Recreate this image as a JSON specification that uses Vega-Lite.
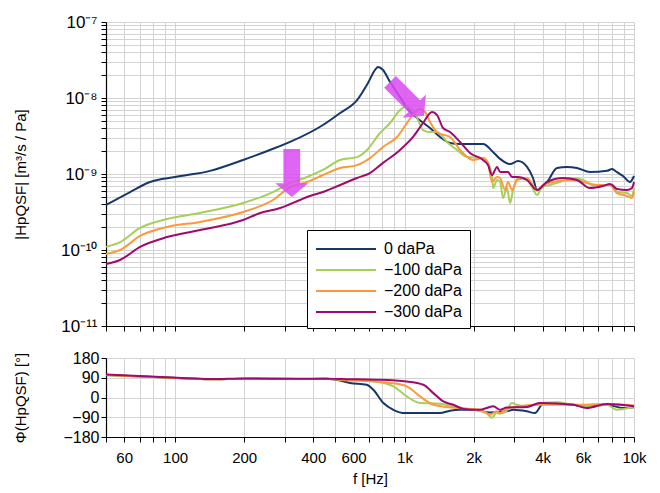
{
  "$schema": "https://vega.github.io/schema/vega-lite/v6.json",
  "background": "white",
  "padding": {"left": 13, "top": 13, "right": 5, "bottom": 5},
  "bounds": "flush",
  "spacing": 32,
  "config": {
    "view": {"stroke": null},
    "font": "Liberation Sans",
    "axis": {
      "gridColor": "#d3d3d3", "gridWidth": 1, "domainColor": "black", "domainWidth": 1.2,
      "tickColor": "black", "tickSize": 5, "labelColor": "black", "titleColor": "black",
      "labelFontSize": 15, "titleFontSize": 15, "titleFontWeight": "normal",
      "labelFont": "Liberation Sans", "titleFont": "Liberation Sans", "labelOverlap": false, "labelFlush": false
    }
  },
  "datasets": {
    "mag": [
      {"p":"0 daPa","f":50,"m":3.91e-10},{"p":"0 daPa","f":63.7,"m":5.79e-10},{"p":"0 daPa","f":77.8,"m":7.85e-10},{"p":"0 daPa","f":100,"m":9.14e-10},{"p":"0 daPa","f":142,"m":1.10e-9},{"p":"0 daPa","f":198,"m":1.53e-9},{"p":"0 daPa","f":259,"m":2.07e-9},{"p":"0 daPa","f":317,"m":2.64e-9},{"p":"0 daPa","f":441,"m":4.41e-9},{"p":"0 daPa","f":524,"m":6.35e-9},{"p":"0 daPa","f":621,"m":9.41e-9},{"p":"0 daPa","f":693,"m":1.58e-8},{"p":"0 daPa","f":744,"m":2.34e-8},{"p":"0 daPa","f":766,"m":2.56e-8},{"p":"0 daPa","f":806,"m":2.34e-8},{"p":"0 daPa","f":865,"m":1.62e-8},{"p":"0 daPa","f":956,"m":1.03e-8},{"p":"0 daPa","f":1025,"m":7.39e-9},{"p":"0 daPa","f":1134,"m":5.46e-9},{"p":"0 daPa","f":1291,"m":4.03e-9},{"p":"0 daPa","f":1428,"m":3.07e-9},{"p":"0 daPa","f":1579,"m":2.56e-9},{"p":"0 daPa","f":1745,"m":2.48e-9},{"p":"0 daPa","f":2198,"m":2.48e-9},{"p":"0 daPa","f":2430,"m":1.95e-9},{"p":"0 daPa","f":2608,"m":1.58e-9},{"p":"0 daPa","f":2883,"m":1.35e-9},{"p":"0 daPa","f":3123,"m":1.48e-9},{"p":"0 daPa","f":3419,"m":1.24e-9},{"p":"0 daPa","f":3630,"m":8.86e-10},{"p":"0 daPa","f":3779,"m":6.16e-10},{"p":"0 daPa","f":4178,"m":7.85e-10},{"p":"0 daPa","f":4619,"m":1.20e-9},{"p":"0 daPa","f":5108,"m":1.24e-9},{"p":"0 daPa","f":5645,"m":1.20e-9},{"p":"0 daPa","f":6433,"m":1.06e-9},{"p":"0 daPa","f":7628,"m":1.10e-9},{"p":"0 daPa","f":8020,"m":1.16e-9},{"p":"0 daPa","f":8433,"m":1.06e-9},{"p":"0 daPa","f":8955,"m":9.41e-10},{"p":"0 daPa","f":9607,"m":7.85e-10},{"p":"0 daPa","f":10000,"m":9.41e-10},
      {"p":"−100 daPa","f":50,"m":1.10e-10},{"p":"−100 daPa","f":57.6,"m":1.27e-10},{"p":"−100 daPa","f":70.4,"m":1.95e-10},{"p":"−100 daPa","f":92.3,"m":2.56e-10},{"p":"−100 daPa","f":128.5,"m":3.07e-10},{"p":"−100 daPa","f":198,"m":4.15e-10},{"p":"−100 daPa","f":267,"m":5.79e-10},{"p":"−100 daPa","f":317,"m":7.61e-10},{"p":"−100 daPa","f":376,"m":9.14e-10},{"p":"−100 daPa","f":441,"m":1.13e-9},{"p":"−100 daPa","f":524,"m":1.53e-9},{"p":"−100 daPa","f":621,"m":1.67e-9},{"p":"−100 daPa","f":686,"m":2.07e-9},{"p":"−100 daPa","f":782,"m":3.46e-9},{"p":"−100 daPa","f":865,"m":4.69e-9},{"p":"−100 daPa","f":956,"m":6.95e-9},{"p":"−100 daPa","f":1005,"m":7.61e-9},{"p":"−100 daPa","f":1057,"m":7.39e-9},{"p":"−100 daPa","f":1134,"m":5.46e-9},{"p":"−100 daPa","f":1204,"m":3.79e-9},{"p":"−100 daPa","f":1291,"m":3.57e-9},{"p":"−100 daPa","f":1386,"m":3.57e-9},{"p":"−100 daPa","f":1532,"m":2.64e-9},{"p":"−100 daPa","f":1693,"m":2.07e-9},{"p":"−100 daPa","f":1872,"m":1.67e-9},{"p":"−100 daPa","f":2198,"m":1.62e-9},{"p":"−100 daPa","f":2311,"m":1.40e-9},{"p":"−100 daPa","f":2406,"m":9.70e-10},{"p":"−100 daPa","f":2430,"m":6.54e-10},{"p":"−100 daPa","f":2530,"m":8.34e-10},{"p":"−100 daPa","f":2608,"m":7.85e-10},{"p":"−100 daPa","f":2687,"m":4.83e-10},{"p":"−100 daPa","f":2797,"m":6.54e-10},{"p":"−100 daPa","f":2883,"m":4.15e-10},{"p":"−100 daPa","f":2971,"m":6.16e-10},{"p":"−100 daPa","f":3123,"m":8.86e-10},{"p":"−100 daPa","f":3419,"m":8.34e-10},{"p":"−100 daPa","f":3594,"m":6.74e-10},{"p":"−100 daPa","f":3779,"m":5.29e-10},{"p":"−100 daPa","f":3973,"m":6.74e-10},{"p":"−100 daPa","f":4305,"m":7.17e-10},{"p":"−100 daPa","f":4761,"m":7.85e-10},{"p":"−100 daPa","f":5424,"m":8.86e-10},{"p":"−100 daPa","f":5995,"m":8.34e-10},{"p":"−100 daPa","f":6630,"m":7.17e-10},{"p":"−100 daPa","f":8101,"m":7.17e-10},{"p":"−100 daPa","f":8433,"m":5.79e-10},{"p":"−100 daPa","f":9321,"m":5.62e-10},{"p":"−100 daPa","f":9800,"m":5.13e-10},{"p":"−100 daPa","f":10000,"m":6.54e-10},
      {"p":"−200 daPa","f":50,"m":8.86e-11},{"p":"−200 daPa","f":57.6,"m":1.00e-10},{"p":"−200 daPa","f":70.4,"m":1.53e-10},{"p":"−200 daPa","f":92.3,"m":2.01e-10},{"p":"−200 daPa","f":128.5,"m":2.34e-10},{"p":"−200 daPa","f":198,"m":3.16e-10},{"p":"−200 daPa","f":267,"m":4.55e-10},{"p":"−200 daPa","f":317,"m":6.74e-10},{"p":"−200 daPa","f":376,"m":7.85e-10},{"p":"−200 daPa","f":441,"m":9.70e-10},{"p":"−200 daPa","f":524,"m":1.20e-9},{"p":"−200 daPa","f":621,"m":1.31e-9},{"p":"−200 daPa","f":707,"m":1.62e-9},{"p":"−200 daPa","f":806,"m":2.27e-9},{"p":"−200 daPa","f":928,"m":3.07e-9},{"p":"−200 daPa","f":1025,"m":4.69e-9},{"p":"−200 daPa","f":1111,"m":6.54e-9},{"p":"−200 daPa","f":1168,"m":7.17e-9},{"p":"−200 daPa","f":1229,"m":6.54e-9},{"p":"−200 daPa","f":1291,"m":4.83e-9},{"p":"−200 daPa","f":1400,"m":3.46e-9},{"p":"−200 daPa","f":1579,"m":3.07e-9},{"p":"−200 daPa","f":1745,"m":2.07e-9},{"p":"−200 daPa","f":1989,"m":1.53e-9},{"p":"−200 daPa","f":2198,"m":1.62e-9},{"p":"−200 daPa","f":2311,"m":1.40e-9},{"p":"−200 daPa","f":2406,"m":7.85e-10},{"p":"−200 daPa","f":2530,"m":9.14e-10},{"p":"−200 daPa","f":2608,"m":8.86e-10},{"p":"−200 daPa","f":2741,"m":6.16e-10},{"p":"−200 daPa","f":2825,"m":7.85e-10},{"p":"−200 daPa","f":2941,"m":6.16e-10},{"p":"−200 daPa","f":3092,"m":8.34e-10},{"p":"−200 daPa","f":3419,"m":8.86e-10},{"p":"−200 daPa","f":3779,"m":6.16e-10},{"p":"−200 daPa","f":4013,"m":7.17e-10},{"p":"−200 daPa","f":4437,"m":7.85e-10},{"p":"−200 daPa","f":5262,"m":8.34e-10},{"p":"−200 daPa","f":5995,"m":7.85e-10},{"p":"−200 daPa","f":6901,"m":7.17e-10},{"p":"−200 daPa","f":7862,"m":7.17e-10},{"p":"−200 daPa","f":8433,"m":5.62e-10},{"p":"−200 daPa","f":9321,"m":5.13e-10},{"p":"−200 daPa","f":9800,"m":4.83e-10},{"p":"−200 daPa","f":10000,"m":5.79e-10},
      {"p":"−300 daPa","f":50,"m":6.54e-11},{"p":"−300 daPa","f":57.6,"m":7.39e-11},{"p":"−300 daPa","f":70.4,"m":1.10e-10},{"p":"−300 daPa","f":92.3,"m":1.48e-10},{"p":"−300 daPa","f":128.5,"m":1.83e-10},{"p":"−300 daPa","f":198,"m":2.48e-10},{"p":"−300 daPa","f":235,"m":3.07e-10},{"p":"−300 daPa","f":287,"m":3.57e-10},{"p":"−300 daPa","f":350,"m":4.55e-10},{"p":"−300 daPa","f":376,"m":4.98e-10},{"p":"−300 daPa","f":441,"m":5.79e-10},{"p":"−300 daPa","f":524,"m":7.17e-10},{"p":"−300 daPa","f":621,"m":8.86e-10},{"p":"−300 daPa","f":707,"m":1.03e-9},{"p":"−300 daPa","f":806,"m":1.40e-9},{"p":"−300 daPa","f":956,"m":2.07e-9},{"p":"−300 daPa","f":1089,"m":3.07e-9},{"p":"−300 daPa","f":1204,"m":4.69e-9},{"p":"−300 daPa","f":1318,"m":6.54e-9},{"p":"−300 daPa","f":1386,"m":5.97e-9},{"p":"−300 daPa","f":1472,"m":4.03e-9},{"p":"−300 daPa","f":1579,"m":3.57e-9},{"p":"−300 daPa","f":1745,"m":2.64e-9},{"p":"−300 daPa","f":1929,"m":1.89e-9},{"p":"−300 daPa","f":2198,"m":1.53e-9},{"p":"−300 daPa","f":2311,"m":1.31e-9},{"p":"−300 daPa","f":2406,"m":9.70e-10},{"p":"−300 daPa","f":2530,"m":1.24e-9},{"p":"−300 daPa","f":2608,"m":1.06e-9},{"p":"−300 daPa","f":2741,"m":1.06e-9},{"p":"−300 daPa","f":2825,"m":1.06e-9},{"p":"−300 daPa","f":2941,"m":9.14e-10},{"p":"−300 daPa","f":3123,"m":9.14e-10},{"p":"−300 daPa","f":3419,"m":8.34e-10},{"p":"−300 daPa","f":3779,"m":6.16e-10},{"p":"−300 daPa","f":4178,"m":7.85e-10},{"p":"−300 daPa","f":4905,"m":8.86e-10},{"p":"−300 daPa","f":5645,"m":8.34e-10},{"p":"−300 daPa","f":6433,"m":6.54e-10},{"p":"−300 daPa","f":7327,"m":6.95e-10},{"p":"−300 daPa","f":7862,"m":7.39e-10},{"p":"−300 daPa","f":8433,"m":6.35e-10},{"p":"−300 daPa","f":9321,"m":6.16e-10},{"p":"−300 daPa","f":9800,"m":6.54e-10},{"p":"−300 daPa","f":10000,"m":7.85e-10}
    ],
    "phase": [
      {"p":"0 daPa","f":50,"ph":103},{"p":"0 daPa","f":102,"ph":89},{"p":"0 daPa","f":142,"ph":83},{"p":"0 daPa","f":202,"ph":86},{"p":"0 daPa","f":350,"ph":84},{"p":"0 daPa","f":458,"ph":85},{"p":"0 daPa","f":524,"ph":77},{"p":"0 daPa","f":579,"ph":66},{"p":"0 daPa","f":684,"ph":58},{"p":"0 daPa","f":731,"ph":35},{"p":"0 daPa","f":809,"ph":-25},{"p":"0 daPa","f":894,"ph":-56},{"p":"0 daPa","f":1005,"ph":-71},{"p":"0 daPa","f":1428,"ph":-71},{"p":"0 daPa","f":1579,"ph":-60},{"p":"0 daPa","f":1745,"ph":-56},{"p":"0 daPa","f":1994,"ph":-56},{"p":"0 daPa","f":2358,"ph":-68},{"p":"0 daPa","f":2788,"ph":-63},{"p":"0 daPa","f":2979,"ph":-56},{"p":"0 daPa","f":3408,"ph":-63},{"p":"0 daPa","f":3704,"ph":-71},{"p":"0 daPa","f":3961,"ph":-33},{"p":"0 daPa","f":4165,"ph":-25},{"p":"0 daPa","f":5440,"ph":-33},{"p":"0 daPa","f":6221,"ph":-43},{"p":"0 daPa","f":7603,"ph":-33},{"p":"0 daPa","f":8983,"ph":-48},{"p":"0 daPa","f":10000,"ph":-45},
      {"p":"−100 daPa","f":50,"ph":103},{"p":"−100 daPa","f":102,"ph":89},{"p":"−100 daPa","f":142,"ph":83},{"p":"−100 daPa","f":202,"ph":86},{"p":"−100 daPa","f":350,"ph":84},{"p":"−100 daPa","f":458,"ph":85},{"p":"−100 daPa","f":524,"ph":81},{"p":"−100 daPa","f":731,"ph":73},{"p":"−100 daPa","f":894,"ph":51},{"p":"−100 daPa","f":1022,"ph":5},{"p":"−100 daPa","f":1168,"ph":-25},{"p":"−100 daPa","f":1428,"ph":-28},{"p":"−100 daPa","f":1745,"ph":-48},{"p":"−100 daPa","f":1994,"ph":-56},{"p":"−100 daPa","f":2281,"ph":-71},{"p":"−100 daPa","f":2399,"ph":-93},{"p":"−100 daPa","f":2522,"ph":-70},{"p":"−100 daPa","f":2608,"ph":-74},{"p":"−100 daPa","f":2788,"ph":-60},{"p":"−100 daPa","f":2932,"ph":-25},{"p":"−100 daPa","f":3083,"ph":-33},{"p":"−100 daPa","f":3408,"ph":-41},{"p":"−100 daPa","f":3894,"ph":-25},{"p":"−100 daPa","f":4605,"ph":-22},{"p":"−100 daPa","f":5440,"ph":-33},{"p":"−100 daPa","f":6647,"ph":-41},{"p":"−100 daPa","f":7603,"ph":-33},{"p":"−100 daPa","f":8406,"ph":-56},{"p":"−100 daPa","f":10000,"ph":-41},
      {"p":"−200 daPa","f":50,"ph":103},{"p":"−200 daPa","f":102,"ph":89},{"p":"−200 daPa","f":142,"ph":83},{"p":"−200 daPa","f":202,"ph":86},{"p":"−200 daPa","f":350,"ph":84},{"p":"−200 daPa","f":458,"ph":85},{"p":"−200 daPa","f":524,"ph":81},{"p":"−200 daPa","f":865,"ph":66},{"p":"−200 daPa","f":1022,"ph":51},{"p":"−200 daPa","f":1168,"ph":5},{"p":"−200 daPa","f":1335,"ph":-33},{"p":"−200 daPa","f":1689,"ph":-48},{"p":"−200 daPa","f":2133,"ph":-56},{"p":"−200 daPa","f":2358,"ph":-78},{"p":"−200 daPa","f":2522,"ph":-63},{"p":"−200 daPa","f":2608,"ph":-71},{"p":"−200 daPa","f":2788,"ph":-52},{"p":"−200 daPa","f":2979,"ph":-43},{"p":"−200 daPa","f":3894,"ph":-33},{"p":"−200 daPa","f":5440,"ph":-33},{"p":"−200 daPa","f":7603,"ph":-30},{"p":"−200 daPa","f":10000,"ph":-37},
      {"p":"−300 daPa","f":50,"ph":105},{"p":"−300 daPa","f":102,"ph":90},{"p":"−300 daPa","f":142,"ph":84},{"p":"−300 daPa","f":202,"ph":87},{"p":"−300 daPa","f":350,"ph":85},{"p":"−300 daPa","f":458,"ph":86},{"p":"−300 daPa","f":524,"ph":84},{"p":"−300 daPa","f":757,"ph":81},{"p":"−300 daPa","f":1022,"ph":73},{"p":"−300 daPa","f":1208,"ph":58},{"p":"−300 daPa","f":1335,"ph":20},{"p":"−300 daPa","f":1476,"ph":-18},{"p":"−300 daPa","f":1632,"ph":-33},{"p":"−300 daPa","f":1806,"ph":-52},{"p":"−300 daPa","f":2133,"ph":-56},{"p":"−300 daPa","f":2438,"ph":-40},{"p":"−300 daPa","f":2608,"ph":-56},{"p":"−300 daPa","f":2788,"ph":-46},{"p":"−300 daPa","f":3408,"ph":-43},{"p":"−300 daPa","f":3894,"ph":-25},{"p":"−300 daPa","f":5440,"ph":-33},{"p":"−300 daPa","f":6221,"ph":-48},{"p":"−300 daPa","f":7603,"ph":-30},{"p":"−300 daPa","f":10000,"ph":-40}
    ],
    "arrows": [
      {"id":"down","f":322.5,"m":1.03e-9},
      {"id":"diag","f":1025,"m":9.73e-9}
    ]
  },
  "vconcat": [
    {
      "width": 528,
      "height": 304,
      "layer": [
        {
          "data": {"name": "mag"},
          "mark": {"type": "line", "strokeWidth": 2, "interpolate": "monotone"},
          "encoding": {
            "x": {"field": "f", "type": "quantitative",
              "scale": {"type": "log", "domain": [50, 10000], "nice": false},
              "axis": {"values": [50,60,70,80,90,100,200,300,400,500,600,700,800,900,1000,2000,3000,4000,5000,6000,7000,8000,9000,10000], "labels": false, "title": null, "grid": true}},
            "y": {"field": "m", "type": "quantitative",
              "scale": {"type": "log", "domain": [1e-11, 1e-7], "nice": false},
              "axis": {
                "values": [1e-11,2e-11,3e-11,4e-11,5e-11,6e-11,7e-11,8e-11,9e-11,1e-10,2e-10,3e-10,4e-10,5e-10,6e-10,7e-10,8e-10,9e-10,1e-9,2e-9,3e-9,4e-9,5e-9,6e-9,7e-9,8e-9,9e-9,1e-8,2e-8,3e-8,4e-8,5e-8,6e-8,7e-8,8e-8,9e-8,1e-7],
                "labelExpr": "datum.value == 1e-7 ? '10⁻⁷' : datum.value == 1e-8 ? '10⁻⁸' : datum.value == 1e-9 ? '10⁻⁹' : datum.value == 1e-10 ? '10⁻¹⁰' : datum.value == 1e-11 ? '10⁻¹¹' : ''",
                "labelFontSize": 17, "labelPadding": 4,
                "title": "|HpQSF| [m³/s / Pa]", "titleX": -78, "grid": true}},
            "color": {"field": "p", "type": "nominal",
              "scale": {"domain": ["0 daPa", "−100 daPa", "−200 daPa", "−300 daPa"], "range": ["#17376b", "#a6cf5a", "#fb9a3a", "#9e0a6e"]},
              "legend": {"orient": "none", "legendX": 201, "legendY": 208, "title": null, "symbolType": "M-1,0H5", "symbolSize": 400, "symbolStrokeWidth": 2, "labelFontSize": 16, "labelFont": "Liberation Sans", "labelColor": "black", "padding": 8, "strokeColor": "black", "fillColor": "white", "rowPadding": 2, "labelOffset": 47, "labelLimit": 0}}
          }
        },
        {
          "data": {"name": "arrows"},
          "transform": [{"filter": "datum.id == 'down'"}],
          "mark": {"type": "point", "shape": "M-0.506,-1.4545L0.506,-1.4545L0.506,0.624L1,0.624L0,1.4545L-1,0.624L-0.506,0.624Z", "filled": true, "color": "#dc4af2", "opacity": 0.85, "size": 1089, "strokeWidth": 0},
          "encoding": {
            "x": {"field": "f", "type": "quantitative"},
            "y": {"field": "m", "type": "quantitative"}
          }
        },
        {
          "data": {"name": "arrows"},
          "transform": [{"filter": "datum.id == 'diag'"}],
          "mark": {"type": "point", "shape": "M-0.506,-1.4545L0.506,-1.4545L0.506,0.624L1,0.624L0,1.4545L-1,0.624L-0.506,0.624Z", "filled": true, "color": "#dc4af2", "opacity": 0.85, "size": 1089, "strokeWidth": 0, "angle": 315},
          "encoding": {
            "x": {"field": "f", "type": "quantitative"},
            "y": {"field": "m", "type": "quantitative"}
          }
        }
      ]
    },
    {
      "width": 528,
      "height": 79,
      "data": {"name": "phase"},
      "mark": {"type": "line", "strokeWidth": 2, "interpolate": "monotone"},
      "encoding": {
        "x": {"field": "f", "type": "quantitative",
          "scale": {"type": "log", "domain": [50, 10000], "nice": false},
          "axis": {"values": [50,60,70,80,90,100,200,300,400,500,600,700,800,900,1000,2000,3000,4000,5000,6000,7000,8000,9000,10000],
            "labelExpr": "datum.value == 60 ? '60' : datum.value == 100 ? '100' : datum.value == 200 ? '200' : datum.value == 400 ? '400' : datum.value == 600 ? '600' : datum.value == 1000 ? '1k' : datum.value == 2000 ? '2k' : datum.value == 4000 ? '4k' : datum.value == 6000 ? '6k' : datum.value == 10000 ? '10k' : ''",
            "labelPadding": 8, "title": "f [Hz]", "titlePadding": 6, "grid": true}},
        "y": {"field": "ph", "type": "quantitative",
          "scale": {"domain": [-180, 180], "nice": false},
          "axis": {"values": [-180, -90, 0, 90, 180], "labelFontSize": 16, "title": "Φ(HpQSF) [°]", "titleX": -78, "grid": true}},
        "color": {"field": "p", "type": "nominal",
          "scale": {"domain": ["0 daPa", "−100 daPa", "−200 daPa", "−300 daPa"], "range": ["#17376b", "#a6cf5a", "#fb9a3a", "#9e0a6e"]},
          "legend": null}
      }
    }
  ]
}
